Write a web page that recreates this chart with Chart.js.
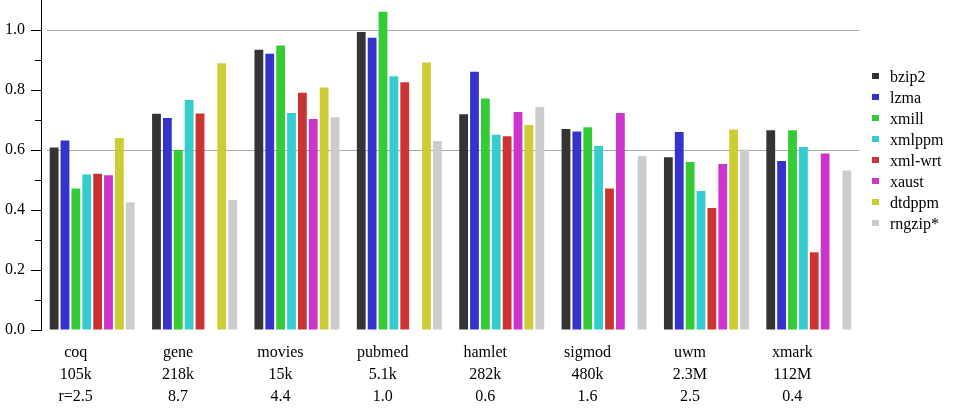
<!DOCTYPE html>
<html>
<head>
<meta charset="utf-8">
<script src="https://cdn.jsdelivr.net/npm/chart.js@4/dist/chart.umd.min.js"></script>
<style>
  html, body { margin: 0; padding: 0; background: #fff; }
  #wrap { position: relative; width: 953px; height: 414px; }
  #legend { position: absolute; left: 872px; top: 0; font-family: "Liberation Serif", serif; font-size: 16px; color: #000; }
  .item { position: absolute; left: 0; height: 21px; line-height: 21px; white-space: nowrap; }
  .box { position: absolute; left: 0; top: 7px; width: 7px; height: 6px; }
  .txt { position: absolute; left: 18px; top: 0; }
</style>
</head>
<body>
<div id="wrap">
  <canvas id="c"></canvas>
  <div id="legend"></div>
</div>
<script>
// ---- data ----
const datasetNames = ["coq", "gene", "movies", "pubmed", "hamlet", "sigmod", "uwm", "xmark"];
const datasetSizes = ["105k", "218k", "15k", "5.1k", "282k", "480k", "2.3M", "112M"];
const datasetRatios = ["r=2.5", "8.7", "4.4", "1.0", "0.6", "1.6", "2.5", "0.4"];

const seriesNames = ["bzip2", "lzma", "xmill", "xmlppm", "xml-wrt", "xaust", "dtdppm", "rngzip*"];
const bzip2  = [0.608, 0.721, 0.934, 0.993, 0.719, 0.670, 0.576, 0.666];
const lzma   = [0.632, 0.707, 0.921, 0.974, 0.861, 0.662, 0.660, 0.563];
const xmill  = [0.472, 0.600, 0.948, 1.061, 0.772, 0.676, 0.560, 0.666];
const xmlppm = [0.518, 0.767, 0.723, 0.846, 0.651, 0.613, 0.463, 0.610];
const xmlwrt = [0.521, 0.722, 0.791, 0.826, 0.646, 0.472, 0.407, 0.259];
const xaust  = [0.516, null,  0.703, null,  0.727, 0.723, 0.553, 0.588];
const dtdppm = [0.640, 0.889, 0.808, 0.892, 0.683, null,  0.668, null ];
const rngzip = [0.426, 0.433, 0.709, 0.630, 0.743, 0.580, 0.602, 0.532];

const seriesValues = [bzip2, lzma, xmill, xmlppm, xmlwrt, xaust, dtdppm, rngzip];
const seriesColors = ["#343434", "#3434cc", "#34cc34", "#34cccc", "#cc3434", "#cc34cc", "#cccc34", "#cccccc"];

const yTickValues = [0.0, 0.2, 0.4, 0.6, 0.8, 1.0];
const gridValues = [0.6, 1.0];

const FONT = "'Liberation Serif', 'Times New Roman', serif";

const labels = datasetNames.map((n, i) => [n, datasetSizes[i], datasetRatios[i]]);
const datasets = seriesNames.map((name, i) => ({
  label: name,
  data: seriesValues[i],
  backgroundColor: seriesColors[i],
  borderWidth: 0,
  categoryPercentage: 0.85,
  barPercentage: 0.81
}));

const isMajor = v => yTickValues.some(t => Math.abs(t - v) < 1e-6);

// reference lines at selected values (drawn behind the bars) and minor tick marks
const axisDecor = {
  id: 'axisDecor',
  beforeDatasetsDraw(chart) {
    const y = chart.scales.y;
    const ctx = chart.ctx;
    const a = chart.chartArea;
    ctx.save();
    ctx.strokeStyle = '#a8a8a8';
    ctx.lineWidth = 1;
    gridValues.forEach(v => {
      const py = Math.round(y.getPixelForValue(v)) + 0.5;
      ctx.beginPath();
      ctx.moveTo(a.left + 6, py);
      ctx.lineTo(a.right - 1, py);
      ctx.stroke();
    });
    ctx.restore();
  },
  afterDraw(chart) {
    const y = chart.scales.y;
    const ctx = chart.ctx;
    const x0 = chart.chartArea.left;
    ctx.save();
    ctx.strokeStyle = '#000';
    ctx.lineWidth = 1;
    y.ticks.forEach(t => {
      if (isMajor(t.value) || t.value > 1.05) return;
      const py = Math.round(y.getPixelForValue(t.value)) + 0.5;
      ctx.beginPath();
      ctx.moveTo(x0 - 6, py);
      ctx.lineTo(x0, py);
      ctx.stroke();
    });
    ctx.restore();
  }
};

new Chart(document.getElementById('c'), {
  type: 'bar',
  data: { labels, datasets },
  plugins: [axisDecor],
  options: {
    responsive: true,
    maintainAspectRatio: false,
    animation: false,
    layout: { padding: { left: 0, right: 93, top: 0, bottom: 0 } },
    plugins: {
      legend: { display: false },
      tooltip: { enabled: false }
    },
    scales: {
      x: {
        offset: true,
        afterFit(scale) { scale.height = 84; },
        grid: { display: false, drawTicks: false, tickLength: 0 },
        border: { display: false },
        ticks: {
          color: '#000',
          font: { family: FONT, size: 16, lineHeight: 1.375 },
          padding: 12,
          labelOffset: -16.5,
          maxRotation: 0,
          autoSkip: false
        }
      },
      y: {
        min: 0,
        max: 1.1,
        afterFit(scale) { scale.paddingTop = 0; scale.width = 41; },
        border: { display: true, color: '#000', width: 1 },
        grid: {
          drawOnChartArea: false,
          drawTicks: true,
          tickLength: 10,
          tickColor: ctx => isMajor(ctx.tick.value) ? '#000' : 'rgba(0,0,0,0)'
        },
        ticks: {
          stepSize: 0.1,
          color: '#000',
          padding: 6,
          font: { family: FONT, size: 16 },
          callback: v => isMajor(v) ? v.toFixed(1) : ''
        }
      }
    }
  }
});

// HTML legend built from the series arrays
const leg = document.getElementById('legend');
seriesNames.forEach((name, i) => {
  const it = document.createElement('div');
  it.className = 'item';
  it.style.top = (66 + 21 * i) + 'px';
  const b = document.createElement('span');
  b.className = 'box';
  b.style.background = seriesColors[i];
  const t = document.createElement('span');
  t.className = 'txt';
  t.textContent = name;
  it.appendChild(b); it.appendChild(t);
  leg.appendChild(it);
});
</script>
</body>
</html>
